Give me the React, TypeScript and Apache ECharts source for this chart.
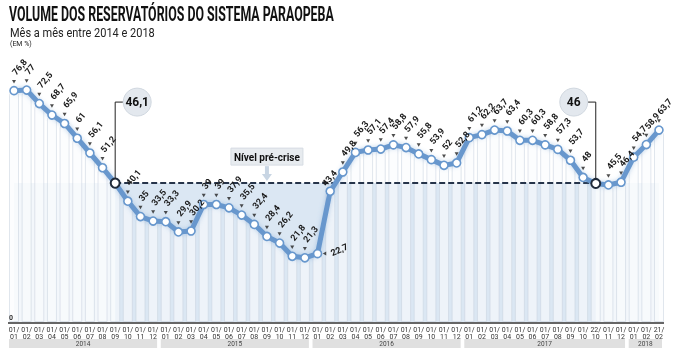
import React, { useEffect, useRef } from "react";
import * as echarts from "echarts";

const categories = [
  "01/01", "01/02", "01/03", "01/04", "01/05", "01/06", "01/07", "01/08", "01/09", "01/10", "01/11", "01/12",
  "01/01", "01/02", "01/03", "01/04", "01/05", "01/06", "01/07", "01/08", "01/09", "01/10", "01/11", "01/12",
  "01/01", "01/02", "01/03", "01/04", "01/05", "01/06", "01/07", "01/08", "01/09", "01/10", "01/11", "01/12",
  "01/01", "01/02", "01/03", "01/04", "01/05", "01/06", "01/07", "01/08", "01/09", "01/10", "22/10", "01/11", "01/12",
  "01/01", "01/02", "21/02",
];

const values = [
  76.8, 77, 72.5, 68.7, 65.9, 61, 56.1, 51.2, 46.1, 40.1, 35, 33.5,
  33.3, 29.9, 30.2, 39, 39, 37.9, 35.5, 32.4, 28.4, 26.2, 21.8, 21.3,
  22.7, 43.4, 49.8, 56.3, 57.1, 57.4, 58.8, 57.9, 55.8, 53.9, 52, 52.8,
  61.2, 62.2, 63.7, 63.4, 60.3, 60.3, 58.8, 57.3, 53.7, 48, 46, 45.5, 46.4,
  54.7, 58.9, 63.7,
];

const years = ["2014", "2015", "2016", "2017", "2018"];
const yearCounts = [12, 12, 12, 13, 3];

const highlightIdx = [8, 46];
const preCriseLevel = 46.1;
const preCriseLabel = "Nível pré-crise";
const preCriseLabelIdx = 20;

const title = "VOLUME DOS RESERVATÓRIOS DO SISTEMA PARAOPEBA";
const subtitle = "Mês a mês entre 2014 e 2018";
const unit = "(EM %)";

const LINE = "#6797cd";
const DARK = "#1f2a3a";
const NARROW = '"Liberation Sans Narrow", "Roboto", sans-serif';

const fmt = (v: number) => String(v).replace(".", ",");

function measure(text: string, font: string) {
  const c = document.createElement("canvas").getContext("2d");
  if (!c) return 0;
  c.font = font;
  return c.measureText(text).width;
}

export default function App() {
  const ref = useRef<HTMLDivElement>(null);
  useEffect(() => {
    const chart = echarts.init(ref.current!, null, { renderer: "svg" });

    const lineData = values.map((v, i) => {
      if (highlightIdx.includes(i)) {
        return {
          value: v,
          symbolSize: 9,
          itemStyle: { color: "#fff", borderColor: DARK, borderWidth: 2 },
          label: { show: false },
        };
      }
      if (i === 24) {
        return { value: v, label: { position: "right", rotate: 25, distance: 9, offset: [0, 0] } };
      }
      if (i === 25) {
        return { value: v, label: { offset: [-12, 2] } };
      }
      return { value: v };
    });

    const triData = values.map((v, i) => {
      if (highlightIdx.includes(i)) return "-";
      if (i === 24) return { value: v, symbolRotate: 90, symbolOffset: [7, 0] };
      if (i === 25) return { value: v, symbolOffset: [-6, -8] };
      return v;
    });

    chart.setOption({
      animation: false,
      grid: { left: 14, right: 16, top: 81, bottom: 38 },
      xAxis: {
        type: "category",
        data: categories,
        boundaryGap: false,
        axisLine: { show: false },
        axisTick: { show: false },
        axisLabel: {
          interval: 0,
          fontSize: 7,
          lineHeight: 7,
          color: "#333",
          margin: 4,
          fontFamily: NARROW,
          formatter: (v: string) => v.replace("/", "/\n"),
        },
      },
      yAxis: {
        type: "value",
        min: 0,
        max: 80,
        show: false,
        splitLine: { show: false },
      },
      series: [
        {
          type: "line",
          data: values,
          z: 1,
          silent: true,
          showSymbol: false,
          lineStyle: { opacity: 0 },
          markArea: {
            silent: true,
            data: [
              [
                { coord: [0, 0], itemStyle: { color: "#f3f7fb" } },
                { coord: [values.length - 1, preCriseLevel] },
              ],
              [
                { coord: [highlightIdx[0], 0], itemStyle: { color: "#dbe7f3" } },
                { coord: [highlightIdx[1], preCriseLevel] },
              ],
            ],
          },
        },
        {
          type: "bar",
          data: values,
          z: 2,
          silent: true,
          clip: false,
          barWidth: 10,
          itemStyle: {
            color: "rgba(250,251,253,0.6)",
            borderColor: "rgba(200,210,222,0.55)",
            borderWidth: 1,
            borderRadius: [5, 5, 0, 0],
          },
        },
        {
          type: "line",
          data: values,
          z: 3,
          silent: true,
          showSymbol: false,
          lineStyle: { opacity: 0 },
          markLine: {
            silent: true,
            symbol: "none",
            label: { show: false },
            lineStyle: { color: "#26344a", type: [6, 3], width: 2 },
            data: [[{ coord: [highlightIdx[0], preCriseLevel] }, { coord: [highlightIdx[1], preCriseLevel] }]],
          },
        },
        {
          type: "line",
          data: lineData,
          z: 5,
          symbol: "circle",
          symbolSize: 8,
          lineStyle: { color: LINE, width: 5, shadowColor: "rgba(103,151,205,0.45)", shadowBlur: 5 },
          itemStyle: { color: "#fff", borderColor: LINE, borderWidth: 1.6 },
          label: {
            show: true,
            position: "top",
            distance: 12,
            rotate: 50,
            align: "left",
            verticalAlign: "middle",
            fontSize: 9,
            fontWeight: "bold",
            fontFamily: NARROW,
            color: "#1a1a1a",
            formatter: (p: any) => fmt(p.value),
          },
        },
        {
          type: "scatter",
          data: triData,
          z: 6,
          silent: true,
          symbol: "triangle",
          symbolRotate: 180,
          symbolSize: [4, 3.5],
          symbolOffset: [0, -9],
          itemStyle: { color: "#222" },
        },
      ],
    });

    const px = (i: number, v: number) =>
      chart.convertToPixel({ xAxisIndex: 0, yAxisIndex: 0 }, [i, v]) as number[];

    const graphics: any[] = [];

    // Title
    const titleFont = `bold 21px ${NARROW}`;
    const tw = measure(title, titleFont) || 325;
    graphics.push({
      type: "text",
      x: 9,
      y: 3,
      scaleX: 325 / tw,
      style: { text: title, font: titleFont, fill: "#111", textVerticalAlign: "top" },
    });
    const subFont = `12px ${NARROW}`;
    const sw = measure(subtitle, subFont) || 145;
    graphics.push({
      type: "text",
      x: 10,
      y: 27,
      scaleX: 145 / sw,
      style: { text: subtitle, font: subFont, fill: "#222", textVerticalAlign: "top" },
    });
    graphics.push({
      type: "text",
      x: 10,
      y: 40,
      style: { text: unit, font: `7px ${NARROW}`, fill: "#222", textVerticalAlign: "top" },
    });

    // Axis line and zero label
    const zero = px(0, 0);
    graphics.push({
      type: "line",
      shape: { x1: 8, y1: zero[1] + 1, x2: 664, y2: zero[1] + 1 },
      style: { stroke: "#333", lineWidth: 1.5 },
      z: 20,
    });
    graphics.push({
      type: "text",
      x: 9,
      y: zero[1] - 1,
      style: { text: "0", font: `bold 7px ${NARROW}`, fill: "#333", textVerticalAlign: "bottom" },
      z: 20,
    });

    // Year bands
    let start = 0;
    years.forEach((yr, k) => {
      const end = start + yearCounts[k] - 1;
      const a = px(start, 0)[0] - 5;
      const b = Math.min(px(end, 0)[0] + 6, 664);
      graphics.push({
        type: "rect",
        shape: { x: a, y: zero[1] + 17, width: b - a - 2, height: 9 },
        style: { fill: "#e0e0e0" },
      });
      graphics.push({
        type: "text",
        x: (a + b - 2) / 2,
        y: zero[1] + 21.5,
        style: {
          text: yr,
          font: `6.5px ${NARROW}`,
          fill: "#444",
          textAlign: "center",
          textVerticalAlign: "middle",
        },
      });
      start = end + 1;
    });

    // Callouts for highlighted points
    highlightIdx.forEach((idx, k) => {
      const p = px(idx, values[idx]);
      const top = px(idx, 73)[1];
      const dir = k === 0 ? 1 : -1;
      const cx = p[0] + dir * 22;
      const r = 14;
      graphics.push({
        type: "polyline",
        shape: { points: [[p[0], p[1] - 5], [p[0], top], [cx - dir * r, top]] },
        style: { stroke: "#222", lineWidth: 1, fill: null },
        z: 20,
      });
      graphics.push({
        type: "circle",
        shape: { cx, cy: top, r },
        style: { fill: "#e3e8ee", stroke: "#d0d7df", lineWidth: 1 },
        z: 20,
      });
      graphics.push({
        type: "text",
        x: cx,
        y: top,
        style: {
          text: fmt(values[idx]),
          font: `bold 12px ${NARROW}`,
          fill: "#111",
          textAlign: "center",
          textVerticalAlign: "middle",
        },
        z: 21,
      });
    });

    // Pre-crise label box and arrow
    const lvl = px(preCriseLabelIdx, preCriseLevel);
    const bx = lvl[0];
    const by = lvl[1] - 26;
    graphics.push({
      type: "rect",
      shape: { x: bx - 36, y: by - 9, width: 72, height: 17 },
      style: { fill: "#e7ebef", stroke: "#d6dce3", lineWidth: 1 },
      z: 20,
    });
    graphics.push({
      type: "text",
      x: bx,
      y: by,
      style: {
        text: preCriseLabel,
        font: `bold 10px ${NARROW}`,
        fill: "#111",
        textAlign: "center",
        textVerticalAlign: "middle",
      },
      z: 21,
    });
    graphics.push({
      type: "rect",
      shape: { x: bx - 2, y: by + 9, width: 4, height: 9 },
      style: { fill: "#c8d5e3" },
      z: 20,
    });
    graphics.push({
      type: "polygon",
      shape: { points: [[bx - 5, by + 17], [bx + 5, by + 17], [bx, lvl[1] - 2]] },
      style: { fill: "#c8d5e3" },
      z: 20,
    });

    chart.setOption({ graphic: graphics });

    return () => chart.dispose();
  }, []);

  return <div ref={ref} style={{ position: "fixed", left: 0, top: 0, width: 675, height: 360 }} />;
}
